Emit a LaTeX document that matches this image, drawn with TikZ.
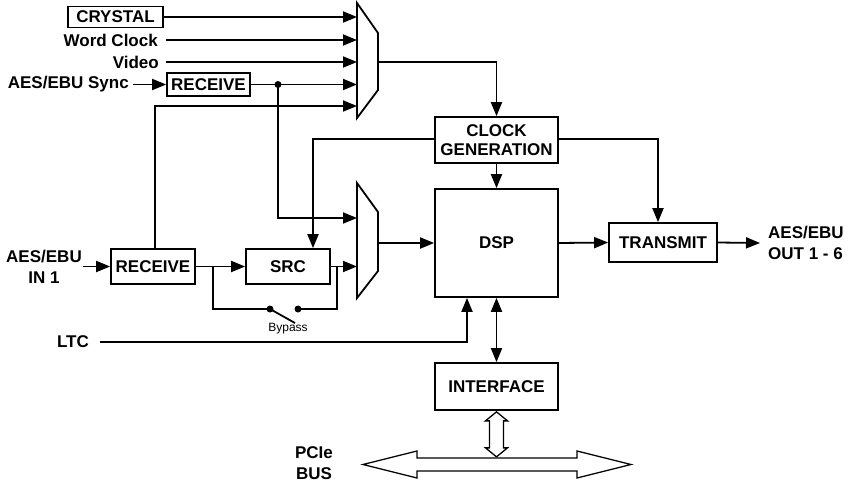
\documentclass[tikz,border=0pt]{standalone}
\usepackage{fontspec}
\setmainfont{Liberation Sans}
\usetikzlibrary{positioning, arrows.meta, calc}

\tikzset{
  blk/.style={draw, line width=1.7pt, font=\bfseries\fontsize{17}{19}\selectfont, inner sep=1pt, align=center},
  lbl/.style={font=\bfseries\fontsize{17}{21}\selectfont, inner sep=3pt},
  wire/.style={line width=1.8pt},
  sig/.style={wire, -{Triangle[length=14pt,width=11pt]}},
  bisig/.style={wire, {Triangle[length=14pt,width=11pt]}-{Triangle[length=14pt,width=11pt]}},
  dot/.style={circle, fill, inner sep=0pt, minimum size=7pt},
}

\begin{document}
\begin{tikzpicture}[x=1pt, y=-1pt]
  \useasboundingbox (0,0) rectangle (855,485);

  % Blocks
  \node[blk, minimum width=123pt, minimum height=46pt] (clk) at (496.5,140) {CLOCK\\GENERATION};
  \node[blk, minimum width=123pt, minimum height=108pt] (dsp) at (496.5,243) {DSP};
  \node[blk, minimum width=123pt, minimum height=47pt] (intf) at (496.5,386.5) {INTERFACE};
  \node[blk, minimum width=108pt, minimum height=39pt] (trans) at (663,242.5) {TRANSMIT};
  \node[blk, minimum width=84pt, minimum height=35pt] (src) at (288,266.5) {SRC};
  \node[blk, minimum width=84pt, minimum height=35pt] (rxin) at (153,266.5) {RECEIVE};
  \node[blk, minimum width=83pt, minimum height=23pt] (rxsync) at (208.5,84.5) {RECEIVE};
  \node[blk, minimum width=95pt, minimum height=21pt] (xtal) at (115.5,17) {CRYSTAL};

  % Labels
  \node[lbl, anchor=east, inner xsep=8pt] (wclk) at (166,40) {Word Clock};
  \node[lbl, anchor=east, inner xsep=7pt] (video) at (166,62) {Video};
  \node[lbl, anchor=east, inner xsep=4pt] (sync) at (133,84.5) {AES/EBU Sync};
  \node[lbl, align=center, inner xsep=1pt] (ain) at (44,266.5) {AES/EBU\\IN 1};
  \node[lbl, anchor=east, inner xsep=11pt] (ltc) at (100,342) {LTC};
  \node[lbl, align=left, anchor=west, inner xsep=8pt] (aout) at (760,243) {AES/EBU\\OUT 1 - 6};
  \node[lbl, align=center] (pcie) at (314,463) {PCIe\\BUS};

  % Multiplexers
  \draw[wire] (357,3) -- (378,33) -- (378,90) -- (357,118) -- cycle;
  \draw[wire] (357,183) -- (378,212) -- (378,271) -- (357,298) -- cycle;
  \foreach \n/\y in {a/17, b/40, c/62, d/84.5, e/106} {
    \coordinate (m1\n) at (357,\y);
  }
  \coordinate (m1o) at (378,62);
  \coordinate (m2a) at (357,218);
  \coordinate (m2b) at (357,266.5);
  \coordinate (m2o) at (378,243);

  % Clock inputs
  \draw[sig] (xtal.east) -- (m1a);
  \draw[sig] (wclk.east) -- (m1b);
  \draw[sig] (video.east) -- (m1c);
  \draw[sig] (sync.east) -- (rxsync.west);
  \draw[sig] (rxsync.east) -- (m1d);
  \draw[sig] ([xshift=2pt]rxin.north) |- (m1e);
  \node[dot] (tap) at (278,84.5) {};
  \draw[sig] (tap.center) |- (m2a);

  % Clock distribution
  \draw[sig] (m1o) -| (clk.north);
  \draw[sig] (clk.south) -- (dsp.north);
  \draw[sig] ([yshift=1pt]clk.west) -| ([xshift=25pt]src.north);
  \draw[sig] ([yshift=1pt]clk.east) -| ([xshift=-5pt]trans.north);

  % Audio path
  \draw[sig] (ain.east) -- (rxin.west);
  \draw[sig] (rxin.east) -- (src.west);
  \draw[sig] (src.east) -- (m2b);
  \draw[sig] (m2o) -- (dsp.west);
  \draw[sig] (dsp.east) -- (trans.west);
  \draw[sig] (trans.east) -- (aout.west);

  % Bypass
  \coordinate (byl) at (213,266.5);
  \coordinate (byr) at (337,266.5);
  \node[dot] (swa) at (270,309) {};
  \node[dot] (swb) at (298,309) {};
  \draw[wire] (byl) |- (swa.center) -- (295,323);
  \draw[wire] (swb.center) -| (byr);
  \node[font=\fontsize{12}{14}\selectfont] (bypass) at (288,329) {Bypass};

  % Timecode and host
  \draw[sig] (ltc.east) -| ([xshift=-29.5pt]dsp.south);
  \draw[bisig] (dsp.south) -- (intf.north);
  \draw[line width=1.3pt] (intf.south) ++(0,1) -- ++(11,9) -- ++(-4,0) -- ++(0,27) -- ++(4,0)
    -- ++(-11,9) -- ++(-11,-9) -- ++(4,0) -- ++(0,-27) -- ++(-4,0) -- cycle;
  \draw[line width=1.3pt] (363,464.5) -- (417,451) -- (417,458) -- (577,458) -- (577,451)
    -- (631,464.5) -- (577,478) -- (577,471) -- (417,471) -- (417,478) -- cycle;
\end{tikzpicture}
\end{document}
